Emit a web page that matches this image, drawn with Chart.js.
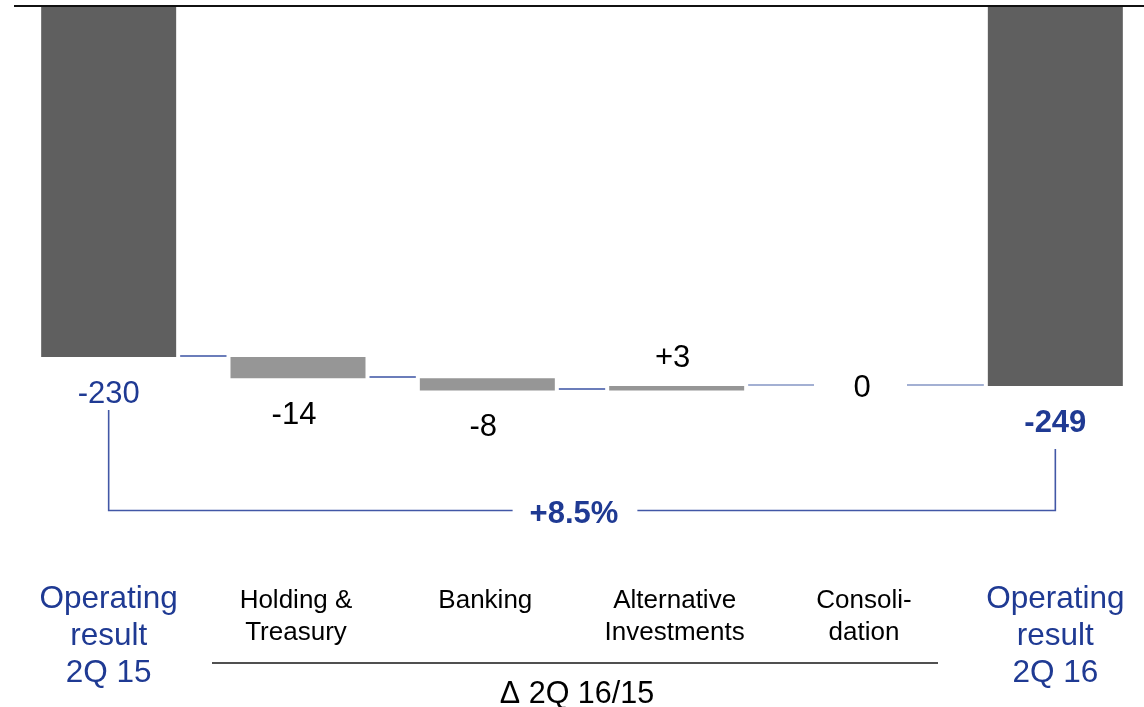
<!DOCTYPE html>
<html>
<head>
<meta charset="utf-8">
<script src="https://cdn.jsdelivr.net/npm/chart.js@4/dist/chart.umd.min.js"></script>
<style>
  html, body { margin: 0; padding: 0; background: #fff; overflow: hidden; }
  #wrap { width: 1150px; height: 707px; position: relative; }
</style>
</head>
<body>
<div id="wrap"><canvas id="bridge"></canvas></div>
<script>
// chart data
const categories = [
    ['Operating', 'result', '2Q 15'],
    ['Holding &', 'Treasury'],
    ['Banking'],
    ['Alternative', 'Investments'],
    ['Consoli-', 'dation'],
    ['Operating', 'result', '2Q 16']
];
const changes = [-230, -14, -8, 3, 0, -249];
const isTotal = [true, false, false, false, false, true];
const valueLabels = ['-230', '-14', '-8', '+3', '0', '-249'];
const growthLabel = '+8.5%';
const deltaTitle = 'Δ 2Q 16/15';

const FONT = "'Liberation Sans', Arial, Helvetica, sans-serif";
const BLUE = '#1f3a93';

// build floating ranges for the waterfall
let running = 0;
const ranges = changes.map((v, i) => {
    if (isTotal[i]) { running = v; return [0, v]; }
    const start = running;
    running += v;
    return [start, running];
});

// everything drawn on top of the bars: connectors, labels, bracket
const bridgeDecor = {
    id: 'bridgeDecor',
    afterDatasetsDraw(chart) {
        const { ctx, chartArea, scales: { x, y } } = chart;
        const bars = chart.getDatasetMeta(0).data;
        ctx.save();

        // zero line across the top
        ctx.strokeStyle = '#111';
        ctx.lineWidth = 2;
        ctx.beginPath();
        ctx.moveTo(chartArea.left, y.getPixelForValue(0) - 1);
        ctx.lineTo(chartArea.right, y.getPixelForValue(0) - 1);
        ctx.stroke();

        // connector lines between bars
        ctx.lineWidth = 1.6;
        for (let i = 0; i < bars.length - 1; i++) {
            const a = bars[i].getProps(['x', 'width'], true);
            const b = bars[i + 1].getProps(['x', 'width'], true);
            const level = Math.round(y.getPixelForValue(ranges[i][1])) - 1;
            const x1 = ranges[i][0] === ranges[i][1] ? a.x + 41 : a.x + a.width / 2 + 4;
            const x2 = ranges[i + 1][0] === ranges[i + 1][1] ? b.x - 52 : b.x - b.width / 2 - 4;
            ctx.strokeStyle = i < 3 ? '#3a52a3' : '#8596c4';
            ctx.beginPath();
            ctx.moveTo(x1, level);
            ctx.lineTo(x2, level);
            ctx.stroke();
        }

        // value labels
        ctx.textAlign = 'center';
        ctx.textBaseline = 'alphabetic';
        bars.forEach((bar, i) => {
            const [s, e] = ranges[i];
            const lo = Math.min(s, e);
            let yy;
            if (s === e) yy = y.getPixelForValue(e) + 11;
            else if (changes[i] > 0) yy = y.getPixelForValue(e) - 19;
            else yy = y.getPixelForValue(lo) + 46;
            ctx.fillStyle = isTotal[i] ? BLUE : '#000';
            ctx.font = (i === bars.length - 1 ? 'bold ' : '') + '31px ' + FONT;
            const nudge = isTotal[i] ? 0 : -4;
            ctx.fillText(valueLabels[i], bar.x + nudge, yy);
        });

        // growth bracket
        const first = bars[0].x, last = bars[bars.length - 1].x;
        const bracketY = 510.5;
        ctx.font = 'bold 31px ' + FONT;
        const mid = (first + last) / 2 - 8;
        const tw = ctx.measureText(growthLabel).width;
        ctx.strokeStyle = '#4257a6';
        ctx.lineWidth = 1.6;
        ctx.beginPath();
        ctx.moveTo(first, y.getPixelForValue(ranges[0][1]) + 53);
        ctx.lineTo(first, bracketY);
        ctx.lineTo(mid - tw / 2 - 17, bracketY);
        ctx.moveTo(mid + tw / 2 + 19, bracketY);
        ctx.lineTo(last, bracketY);
        ctx.lineTo(last, y.getPixelForValue(ranges[ranges.length - 1][1]) + 63);
        ctx.stroke();
        ctx.fillStyle = BLUE;
        ctx.fillText(growthLabel, mid, 523);

        // category labels
        categories.forEach((lines, i) => {
            const cx = x.getPixelForValue(i);
            if (isTotal[i]) {
                ctx.font = '31.5px ' + FONT;
                ctx.fillStyle = BLUE;
                lines.forEach((t, j) => ctx.fillText(t, cx, 608 + j * 36.8));
            } else {
                ctx.font = '26px ' + FONT;
                ctx.fillStyle = '#000';
                lines.forEach((t, j) => ctx.fillText(t, cx - 2, 608 + j * 32));
            }
        });

        // delta underline and title
        const dx1 = x.getPixelForValue(1) - 86;
        const dx2 = x.getPixelForValue(4) + 72;
        ctx.strokeStyle = '#505050';
        ctx.lineWidth = 2;
        ctx.beginPath();
        ctx.moveTo(dx1, 663);
        ctx.lineTo(dx2, 663);
        ctx.stroke();
        ctx.font = '30.5px ' + FONT;
        ctx.fillStyle = '#000';
        ctx.fillText(deltaTitle, (dx1 + dx2) / 2 + 2, 703);

        ctx.restore();
    }
};

new Chart(document.getElementById('bridge'), {
    type: 'bar',
    data: {
        labels: categories,
        datasets: [{
            data: ranges,
            backgroundColor: isTotal.map(t => t ? '#5f5f5f' : '#969696'),
            borderWidth: 0,
            categoryPercentage: 1,
            barPercentage: 0.713
        }]
    },
    options: {
        responsive: true,
        maintainAspectRatio: false,
        animation: false,
        layout: { padding: { left: 14, top: 7, right: 0, bottom: 0 } },
        plugins: { legend: { display: false }, tooltip: { enabled: false } },
        scales: {
            x: { display: false },
            y: { display: false, min: -460, max: 0 }
        }
    },
    plugins: [bridgeDecor]
});
</script>
</body>
</html>
